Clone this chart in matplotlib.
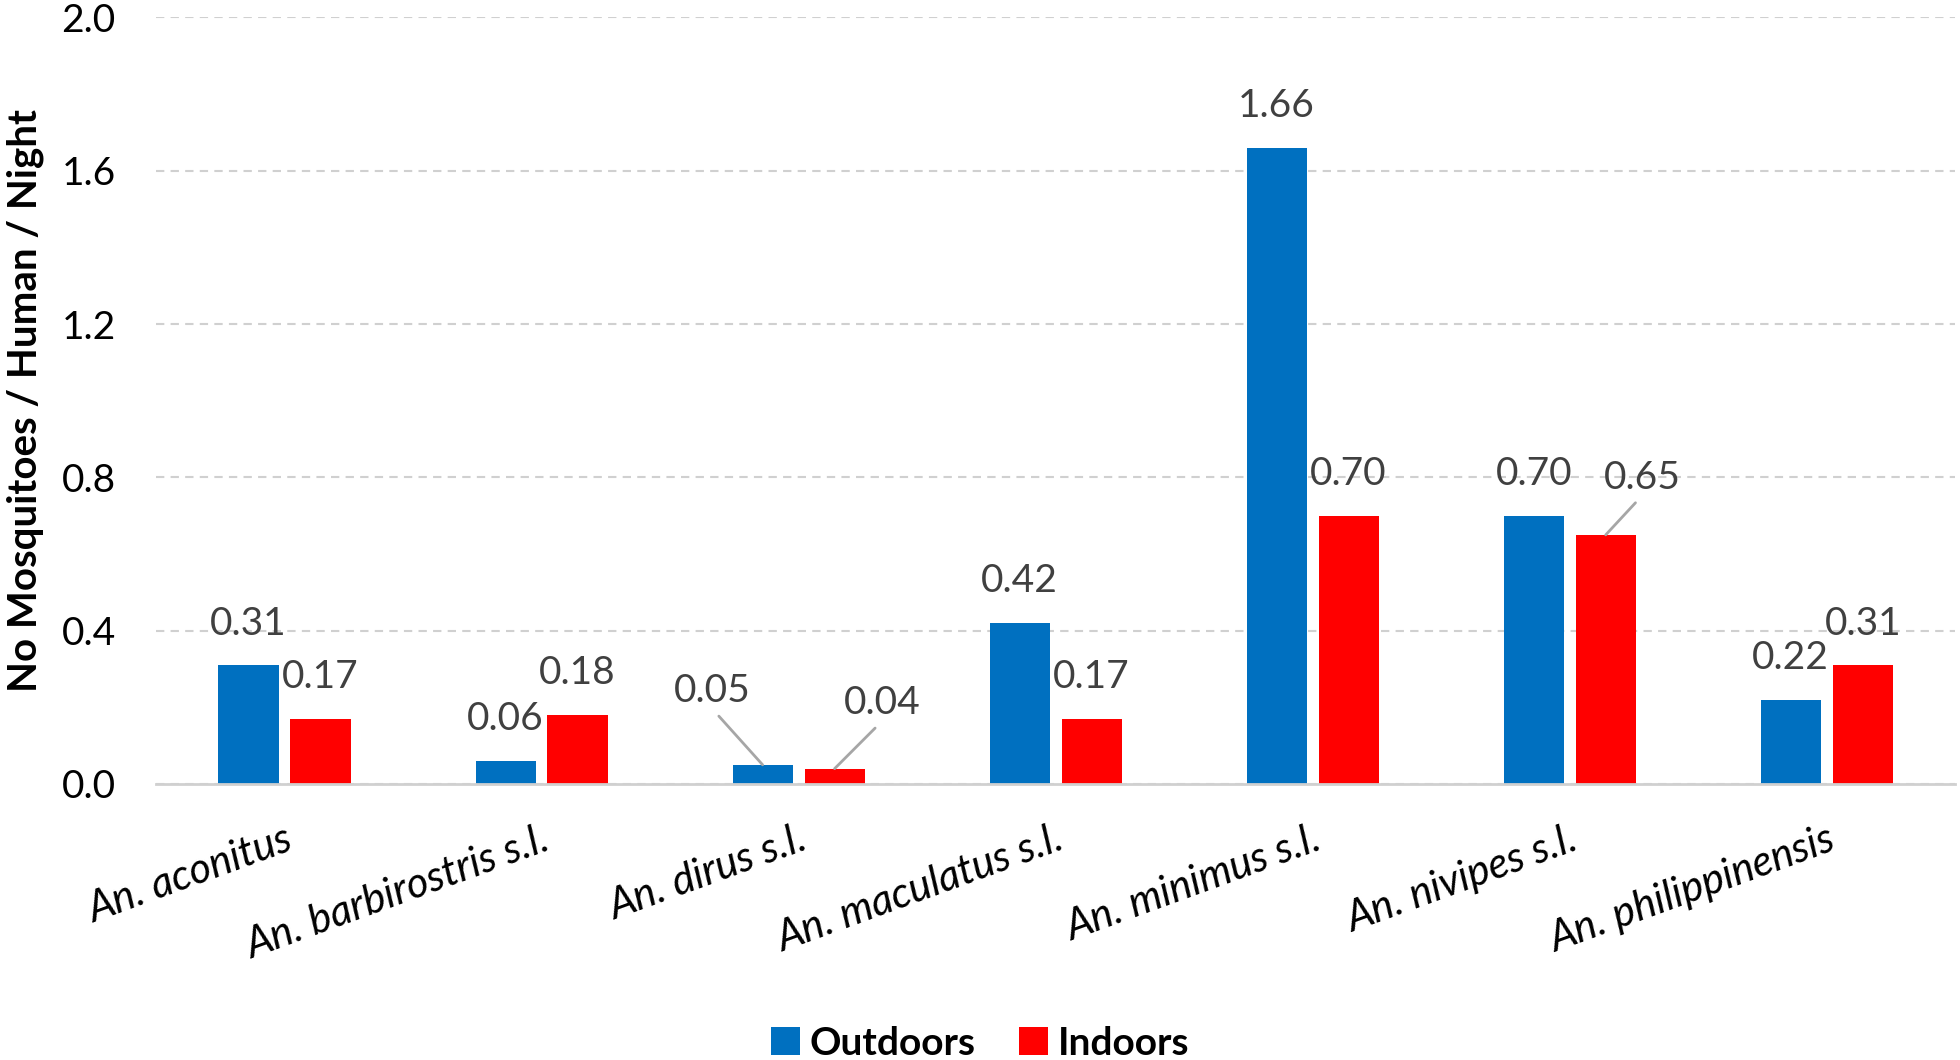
import matplotlib.pyplot as plt
import numpy as np

plt.rcParams['font.family'] = ['Lato', 'DejaVu Sans']

species = ["An. aconitus", "An. barbirostris s.l.", "An. dirus s.l.",
           "An. maculatus s.l.", "An. minimus s.l.", "An. nivipes s.l.",
           "An. philippinensis"]
outdoors = [0.31, 0.06, 0.05, 0.42, 1.66, 0.70, 0.22]
indoors = [0.17, 0.18, 0.04, 0.17, 0.70, 0.65, 0.31]
yticks = [0.0, 0.4, 0.8, 1.2, 1.6, 2.0]

BLUE = "#0070c0"
RED = "#ff0000"
LABEL_GREY = "#404040"

fig = plt.figure(figsize=(19.6, 10.6), dpi=100)
ax = fig.add_axes([0.0796, 0.2604, 0.918, 0.7231])

x = np.arange(len(species))
w = 0.234
off = 0.14
b1 = ax.bar(x - off, outdoors, w, color=BLUE, label="Outdoors", zorder=3)
b2 = ax.bar(x + off, indoors, w, color=RED, label="Indoors", zorder=3)

# label offsets in points; a few labels are pulled aside with leader lines
out_off = {2: (-36, 53)}
in_off = {2: (34, 47), 5: (26, 41)}

def put_labels(bars, vals, moved):
    for i, (bar, v) in enumerate(zip(bars, vals)):
        cx = bar.get_x() + bar.get_width() / 2
        if i in moved:
            ax.annotate(f"{v:.2f}", (cx, v), xytext=moved[i], textcoords="offset points",
                        ha="center", va="center", fontsize=28, color=LABEL_GREY,
                        arrowprops=dict(arrowstyle="-", color="#a6a6a6", lw=2,
                                        relpos=(0.5, 0.0), shrinkA=4, shrinkB=0))
        else:
            ax.annotate(f"{v:.2f}", (cx, v), xytext=(0, 30), textcoords="offset points",
                        ha="center", va="center", fontsize=28, color=LABEL_GREY)

put_labels(b1, outdoors, out_off)
put_labels(b2, indoors, in_off)

ax.set_xlim(-0.5, len(species) - 0.5)
ax.set_ylim(0, 2.0)
ax.set_yticks(yticks)
ax.set_yticklabels([f"{t:.1f}" for t in yticks], fontsize=28, color="#000000")
ax.yaxis.grid(True, linestyle=(0, (4, 3)), color="#d0d0d0", lw=1.5, zorder=0)
ax.tick_params(axis="y", length=0, pad=29)
ax.tick_params(axis="x", length=0, pad=26)

ax.set_xticks(x)
ax.set_xticklabels(species, rotation=20, ha="right", rotation_mode="anchor",
                   fontsize=30, style="italic", color="#000000")

for s in ["top", "right", "left"]:
    ax.spines[s].set_visible(False)
ax.spines["bottom"].set_color("#d0d0d0")
ax.spines["bottom"].set_linewidth(2)
ax.spines["bottom"].set_zorder(4)

fig.text(0.013, 0.622, "No Mosquitoes / Human / Night", rotation=90,
         ha="center", va="center", fontsize=29, fontweight="bold")

fig.legend(handles=[b1, b2], loc="center", bbox_to_anchor=(0.5, 0.016), ncol=2,
           frameon=False, prop={"size": 28, "weight": "bold"},
           handlelength=0.75, handleheight=0.75, handletextpad=0.25, columnspacing=1.1)

fig.savefig("out.png", dpi=100)
